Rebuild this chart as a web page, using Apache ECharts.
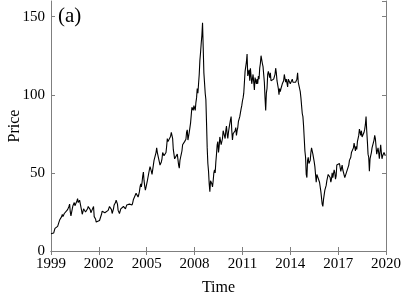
<!DOCTYPE html>
<html lang="en">
<head>
    <meta charset="UTF-8">
    <title>Price</title>
    <script src="https://cdn.jsdelivr.net/npm/echarts@6/dist/echarts.min.js"></script>
</head>
<body style="margin:0;background:#fff;">
<div id="main" style="width: 407px;height:295px;"></div>
<script type="text/javascript">
    // twice-monthly prices, one row per year
    var startYear = 1999;
    var perYear = 24;
    var price = [
        11.0, 10.5, 10.2, 10.0, 11.5, 13.0, 14.5, 15.5, 15.5, 15.0, 15.8, 16.5, 18.5, 19.8, 20.0, 20.5, 22.0, 23.5, 22.0, 21.5, 24.0, 25.0, 25.0, 24.5,
        24.5, 26.5, 27.5, 28.5, 30.0, 25.0, 22.5, 23.5, 27.0, 29.0, 30.0, 31.0, 29.0, 28.0, 30.0, 32.0, 33.5, 31.0, 31.0, 32.5, 32.0, 33.5, 26.0, 23.5,
        25.0, 27.0, 28.0, 27.0, 25.0, 24.5, 25.0, 27.0, 28.5, 28.0, 28.5, 26.5, 24.5, 25.5, 26.5, 27.0, 28.5, 22.0, 21.0, 20.5, 18.5, 18.5, 19.0, 19.5,
        19.5, 19.5, 20.0, 20.5, 23.5, 25.5, 26.0, 25.0, 25.5, 24.5, 24.0, 24.5, 25.5, 25.5, 26.0, 27.0, 28.5, 28.0, 27.5, 26.5, 24.0, 23.5, 27.0, 29.5,
        30.0, 31.0, 32.5, 33.0, 30.0, 26.0, 25.0, 24.0, 25.0, 27.0, 27.5, 27.5, 28.0, 28.5, 29.5, 29.0, 27.0, 26.5, 29.5, 29.5, 28.5, 29.0, 30.0, 30.5,
        31.0, 30.5, 29.5, 31.0, 33.0, 33.5, 33.0, 33.5, 37.0, 37.0, 36.0, 34.5, 36.0, 38.0, 41.0, 43.0, 41.0, 44.0, 48.0, 50.5, 45.0, 41.5, 39.0, 39.5,
        43.0, 45.0, 44.5, 46.0, 52.0, 54.0, 53.5, 51.0, 49.0, 50.0, 55.0, 58.0, 57.0, 58.0, 63.0, 66.0, 63.0, 62.0, 59.0, 57.0, 55.0, 54.0, 57.0, 59.0,
        63.0, 64.0, 61.0, 60.0, 62.0, 63.0, 67.0, 72.0, 70.0, 69.5, 69.0, 70.0, 73.5, 76.0, 75.0, 72.0, 65.0, 62.0, 59.0, 59.5, 59.0, 60.0, 62.0, 62.0,
        55.0, 53.0, 58.0, 60.0, 62.0, 64.0, 68.0, 67.0, 67.0, 70.0, 70.0, 71.5, 76.0, 77.5, 71.0, 71.0, 76.0, 79.0, 82.0, 87.0, 92.0, 93.0, 90.0, 93.0,
        94.0, 90.0, 95.0, 98.0, 104.0, 101.0, 107.0, 113.0, 122.0, 127.0, 133.0, 138.0, 146.0, 130.0, 114.0, 113.0, 101.0, 97.0, 82.0, 66.0, 56.0, 51.0, 43.0, 38.0,
        45.0, 44.0, 43.0, 41.0, 45.0, 50.0, 52.0, 50.0, 57.0, 62.0, 68.0, 70.0, 63.0, 67.0, 73.0, 72.0, 68.0, 67.0, 72.0, 77.0, 78.0, 77.0, 72.0, 77.0,
        80.0, 75.0, 72.0, 76.0, 79.0, 80.0, 84.0, 86.0, 77.0, 71.0, 75.0, 76.0, 74.0, 77.0, 79.0, 74.0, 77.0, 79.0, 83.0, 83.0, 86.0, 85.0, 91.0, 93.0,
        96.0, 98.0, 101.0, 108.0, 115.0, 114.0, 121.0, 126.0, 112.0, 113.0, 116.0, 109.0, 117.0, 118.0, 107.0, 110.0, 113.0, 108.0, 103.0, 111.0, 112.0, 107.0, 110.0, 107.0,
        112.0, 110.0, 117.0, 120.0, 125.0, 124.0, 120.0, 118.0, 113.0, 108.0, 98.0, 90.0, 101.0, 104.0, 113.0, 115.0, 115.0, 111.0, 114.0, 109.0, 108.0, 110.0, 108.0, 110.0,
        111.0, 113.0, 117.0, 114.0, 109.0, 109.0, 104.0, 100.0, 104.0, 102.0, 104.0, 103.0, 107.0, 108.0, 109.0, 113.0, 112.0, 108.0, 110.0, 109.0, 105.0, 110.0, 110.0, 111.0,
        107.0, 107.0, 108.0, 110.0, 108.0, 107.0, 107.0, 109.0, 108.0, 109.0, 110.0, 114.0, 108.0, 106.0, 104.0, 102.0, 98.0, 97.0, 88.0, 86.0, 80.0, 72.0, 64.0, 60.0,
        49.0, 47.0, 58.0, 60.0, 56.0, 55.0, 58.0, 63.0, 66.0, 64.0, 62.0, 63.0, 57.0, 54.0, 49.0, 44.0, 49.0, 48.0, 49.0, 48.0, 44.0, 44.0, 38.0, 37.0,
        30.0, 28.5, 33.0, 34.0, 39.0, 40.0, 42.0, 45.0, 47.0, 49.0, 50.0, 48.0, 47.0, 44.0, 46.0, 50.0, 47.0, 47.0, 52.0, 50.0, 46.0, 48.0, 55.0, 55.0,
        55.0, 55.0, 56.0, 56.0, 51.0, 51.0, 55.0, 52.0, 51.0, 53.0, 47.0, 46.0, 48.0, 51.0, 52.0, 52.0, 55.0, 58.0, 57.0, 60.0, 63.0, 63.0, 63.0, 66.0,
        69.0, 70.0, 64.0, 67.0, 65.0, 70.0, 71.0, 74.0, 78.0, 76.0, 74.0, 77.0, 73.0, 74.0, 72.0, 76.0, 78.0, 81.0, 86.0, 77.0, 70.0, 62.0, 60.0, 51.0,
        59.0, 61.0, 63.0, 66.0, 67.0, 67.0, 71.0, 74.0, 72.0, 67.0, 62.0, 64.0, 66.0, 63.0, 59.0, 60.0, 68.0, 63.0, 59.0, 61.0, 62.0, 63.0, 62.0, 61.0
    ];
    var xTicks = [1999, 2020, 3];
    var yTicks = [0, 160, 50];

    var seriesData = [];
    for (var i = 0; i < price.length; i++) {
        seriesData.push([startYear + i / perYear, price[i]]);
    }

    var font = 'Liberation Serif';
    var axisGray = '#7f7f7f';

    var myChart = echarts.init(document.getElementById('main'));
    var option = {
        backgroundColor: '#fff',
        animation: false,
        textStyle: {fontFamily: font},
        grid: {left: 51, right: 21, top: 1, bottom: 44, containLabel: false, outerBoundsMode: 'none'},
        graphic: [{
            type: 'text',
            left: 58,
            top: 6,
            style: {text: '(a)', font: '21px "Liberation Serif"', fill: '#000'}
        }],
        xAxis: [{
            type: 'value',
            min: xTicks[0],
            max: xTicks[1],
            interval: xTicks[2],
            name: 'Time',
            nameLocation: 'middle',
            nameGap: 29,
            nameMoveOverlap: false,
            nameTextStyle: {fontFamily: font, fontSize: 16, color: '#000'},
            axisLine: {lineStyle: {color: axisGray, width: 1}},
            axisTick: {inside: true, length: 4, lineStyle: {color: axisGray}},
            axisLabel: {
                fontFamily: font, fontSize: 15, color: '#000', margin: 6,
                formatter: function (v) { return String(v); }
            },
            splitLine: {show: false}
        }, {
            type: 'value',
            position: 'top',
            min: xTicks[0],
            max: xTicks[1],
            interval: xTicks[2],
            axisLine: {lineStyle: {color: axisGray, width: 1}},
            axisTick: {inside: true, length: 4, lineStyle: {color: axisGray}},
            axisLabel: {show: false},
            splitLine: {show: false}
        }],
        yAxis: [{
            type: 'value',
            min: yTicks[0],
            max: yTicks[1],
            interval: yTicks[2],
            name: 'Price',
            nameLocation: 'middle',
            nameGap: 28,
            nameMoveOverlap: false,
            nameTextStyle: {fontFamily: font, fontSize: 16, color: '#000'},
            axisLine: {show: true, lineStyle: {color: axisGray, width: 1}},
            axisTick: {show: true, inside: true, length: 4, lineStyle: {color: axisGray}},
            axisLabel: {
                fontFamily: font, fontSize: 15, color: '#000', margin: 6, showMaxLabel: false,
                formatter: function (v) { return v % 50 === 0 ? String(v) : ''; }
            },
            splitLine: {show: false}
        }, {
            type: 'value',
            position: 'right',
            min: yTicks[0],
            max: yTicks[1],
            interval: yTicks[2],
            axisLine: {show: true, lineStyle: {color: axisGray, width: 1}},
            axisTick: {show: true, inside: true, length: 4, lineStyle: {color: axisGray}},
            axisLabel: {show: false},
            splitLine: {show: false}
        }],
        series: [{
            type: 'line',
            data: seriesData,
            showSymbol: false,
            symbol: 'none',
            lineStyle: {color: '#000', width: 1.1}
        }]
    };
    myChart.setOption(option);
</script>
</body>
</html>
